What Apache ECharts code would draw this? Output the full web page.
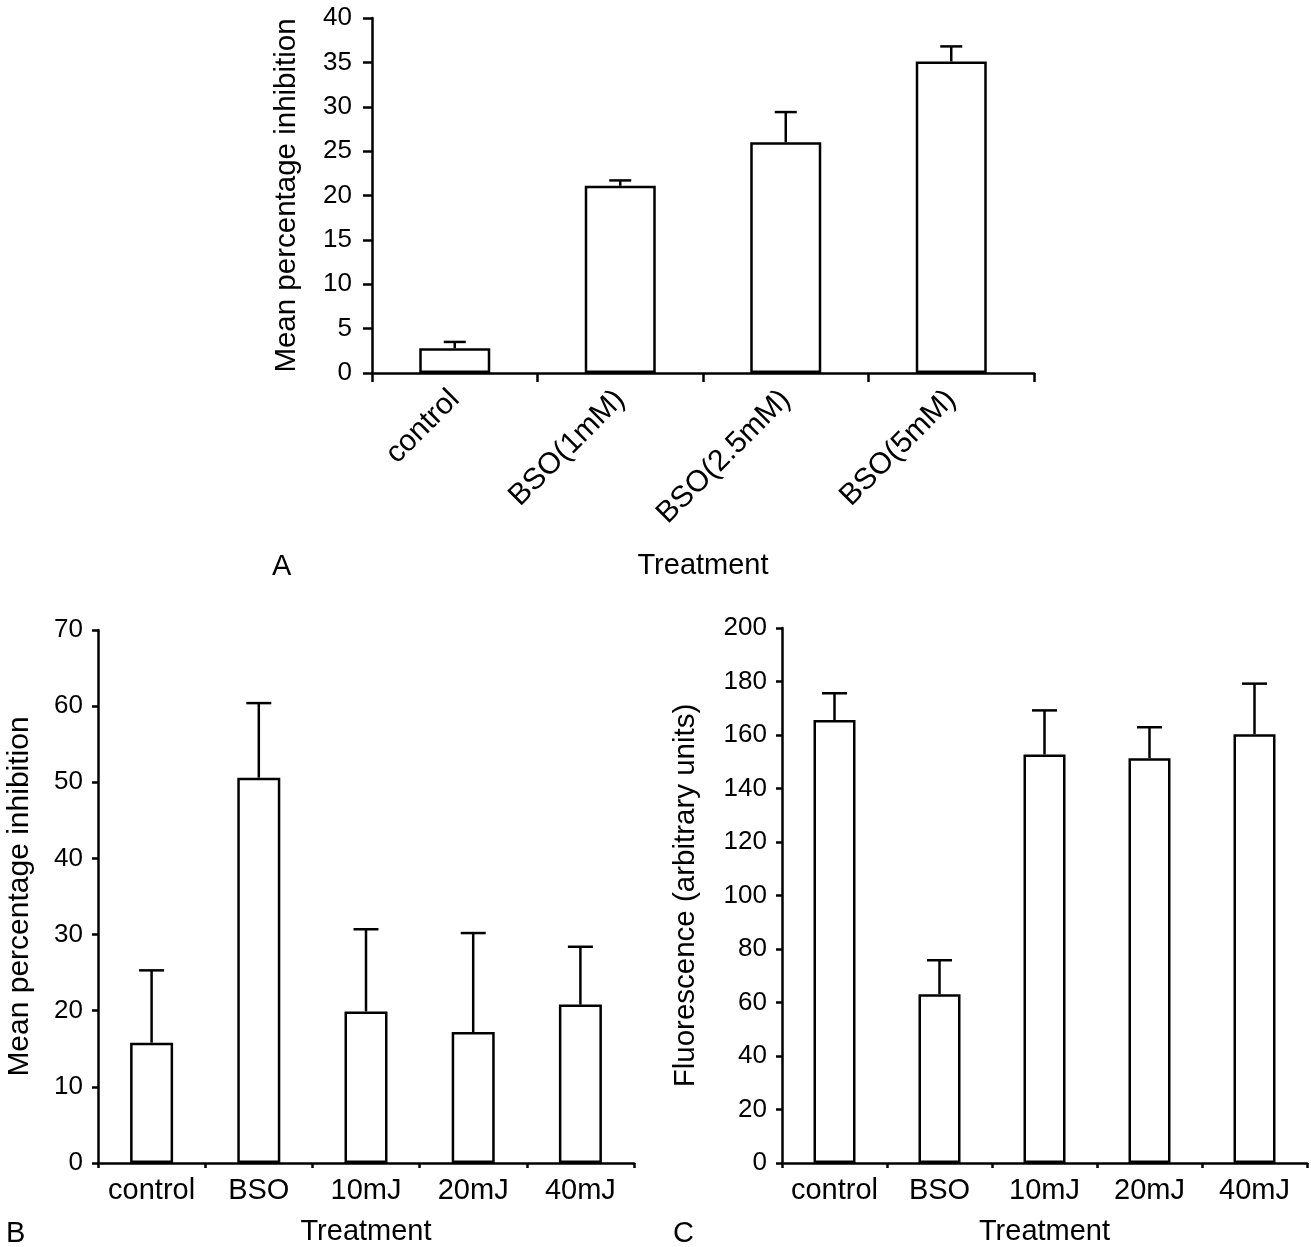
<!DOCTYPE html>
<html>
<head>
<meta charset="utf-8">
<script src="https://cdn.jsdelivr.net/npm/echarts@6/dist/echarts.min.js"></script>
<style>
html,body{margin:0;padding:0;background:#fff;}
#main{width:1311px;height:1247px;}
</style>
</head>
<body>
<div id="main"></div>
<script>
// Panel A
const categoriesA = ['control', 'BSO(1mM)', 'BSO(2.5mM)', 'BSO(5mM)'];
const meansA = [2.8, 21.1, 26.0, 35.1];
const errorsA = [0.7, 0.6, 3.4, 1.7];
// Panel B
const categoriesB = ['control', 'BSO', '10mJ', '20mJ', '40mJ'];
const meansB = [15.8, 50.6, 19.9, 17.2, 20.8];
const errorsB = [9.5, 9.8, 10.8, 13.0, 7.6];
// Panel C
const categoriesC = ['control', 'BSO', '10mJ', '20mJ', '40mJ'];
const meansC = [165.6, 63.1, 152.7, 151.3, 160.3];
const errorsC = [10.0, 12.7, 16.5, 11.6, 18.9];
// Axis ranges
const yRangeA = [0, 40, 5];
const yRangeB = [0, 70, 10];
const yRangeC = [0, 200, 20];

const FONT = '"Liberation Sans", Arial, Helvetica, sans-serif';

function errRender(cap) {
  return function (params, api) {
    const i = api.value(0), m = api.value(1), e = api.value(2);
    const p0 = api.coord([i, m]);
    const p1 = api.coord([i, m + e]);
    const st = { stroke: '#000', lineWidth: 2.5 };
    return {
      type: 'group',
      children: [
        { type: 'line', shape: { x1: p0[0], y1: p0[1], x2: p1[0], y2: p1[1] }, style: st },
        { type: 'line', shape: { x1: p1[0] - cap / 2, y1: p1[1], x2: p1[0] + cap / 2, y2: p1[1] }, style: st }
      ]
    };
  };
}

function xAxisCfg(idx, cats, o) {
  return {
    type: 'category', gridIndex: idx, data: cats,
    name: 'Treatment', nameLocation: 'middle', nameGap: o.nameGap,
    nameTextStyle: { fontFamily: FONT, fontSize: 29, color: '#000' },
    axisLine: { lineStyle: { color: '#000', width: 2.5 } },
    axisTick: { show: true, length: o.tick, lineStyle: { color: '#000', width: 2.5 } },
    axisLabel: { fontFamily: FONT, fontSize: o.fs, color: '#000', margin: o.margin, rotate: o.rotate || 0, interval: 0 },
    splitLine: { show: false }
  };
}
function yAxisCfg(idx, name, r, o) {
  return {
    type: 'value', gridIndex: idx, min: r[0], max: r[1], interval: r[2],
    name: name, nameLocation: 'middle', nameGap: o.nameGap,
    nameTextStyle: { fontFamily: FONT, fontSize: o.nfs, color: '#000' },
    axisLine: { show: true, lineStyle: { color: '#000', width: 2.5 } },
    axisTick: { show: true, length: o.tick, lineStyle: { color: '#000', width: 2.5 } },
    axisLabel: { fontFamily: FONT, fontSize: 26, color: '#000', margin: o.margin },
    splitLine: { show: false }
  };
}
function barSeries(idx, vals, w) {
  return {
    type: 'bar', xAxisIndex: idx, yAxisIndex: idx, data: vals, barWidth: w,
    itemStyle: { color: '#fff', borderColor: '#000', borderWidth: 2.5 },
    silent: true, animation: false
  };
}
function errSeries(idx, vals, errs, cap) {
  return {
    type: 'custom', xAxisIndex: idx, yAxisIndex: idx,
    data: vals.map((v, i) => [i, v, errs[i]]),
    encode: { x: 0, y: 1 },
    renderItem: errRender(cap), silent: true, animation: false, z: 3
  };
}

const chart = echarts.init(document.getElementById('main'));
chart.setOption({
  backgroundColor: '#fff',
  animation: false,
  grid: [
    { left: 372, top: 18, width: 662, height: 355 },
    { left: 98, top: 630, width: 536, height: 533 },
    { left: 782, top: 628, width: 525, height: 535 }
  ],
  xAxis: [
    xAxisCfg(0, categoriesA, { nameGap: 178, tick: 9, fs: 30, margin: 22, rotate: 45 }),
    xAxisCfg(1, categoriesB, { nameGap: 54, tick: 5, fs: 29, margin: 13 }),
    xAxisCfg(2, categoriesC, { nameGap: 54, tick: 5, fs: 29, margin: 13 })
  ],
  yAxis: [
    yAxisCfg(0, 'Mean percentage inhibition', yRangeA, { nameGap: 70, nfs: 29.5, tick: 9, margin: 20 }),
    yAxisCfg(1, 'Mean percentage inhibition', yRangeB, { nameGap: 63, nfs: 30, tick: 6, margin: 15 }),
    yAxisCfg(2, 'Fluorescence (arbitrary units)', yRangeC, { nameGap: 81, nfs: 29.5, tick: 6, margin: 15 })
  ],
  series: [
    barSeries(0, meansA, 71), errSeries(0, meansA, errorsA, 22),
    barSeries(1, meansB, 43), errSeries(1, meansB, errorsB, 25),
    barSeries(2, meansC, 42), errSeries(2, meansC, errorsC, 25)
  ],
  graphic: [
    { type: 'text', left: 272, top: 552, style: { text: 'A', fontFamily: FONT, fontSize: 29, fill: '#000' } },
    { type: 'text', left: 6, top: 1219, style: { text: 'B', fontFamily: FONT, fontSize: 29, fill: '#000' } },
    { type: 'text', left: 673, top: 1219, style: { text: 'C', fontFamily: FONT, fontSize: 29, fill: '#000' } }
  ]
});
</script>
</body>
</html>
